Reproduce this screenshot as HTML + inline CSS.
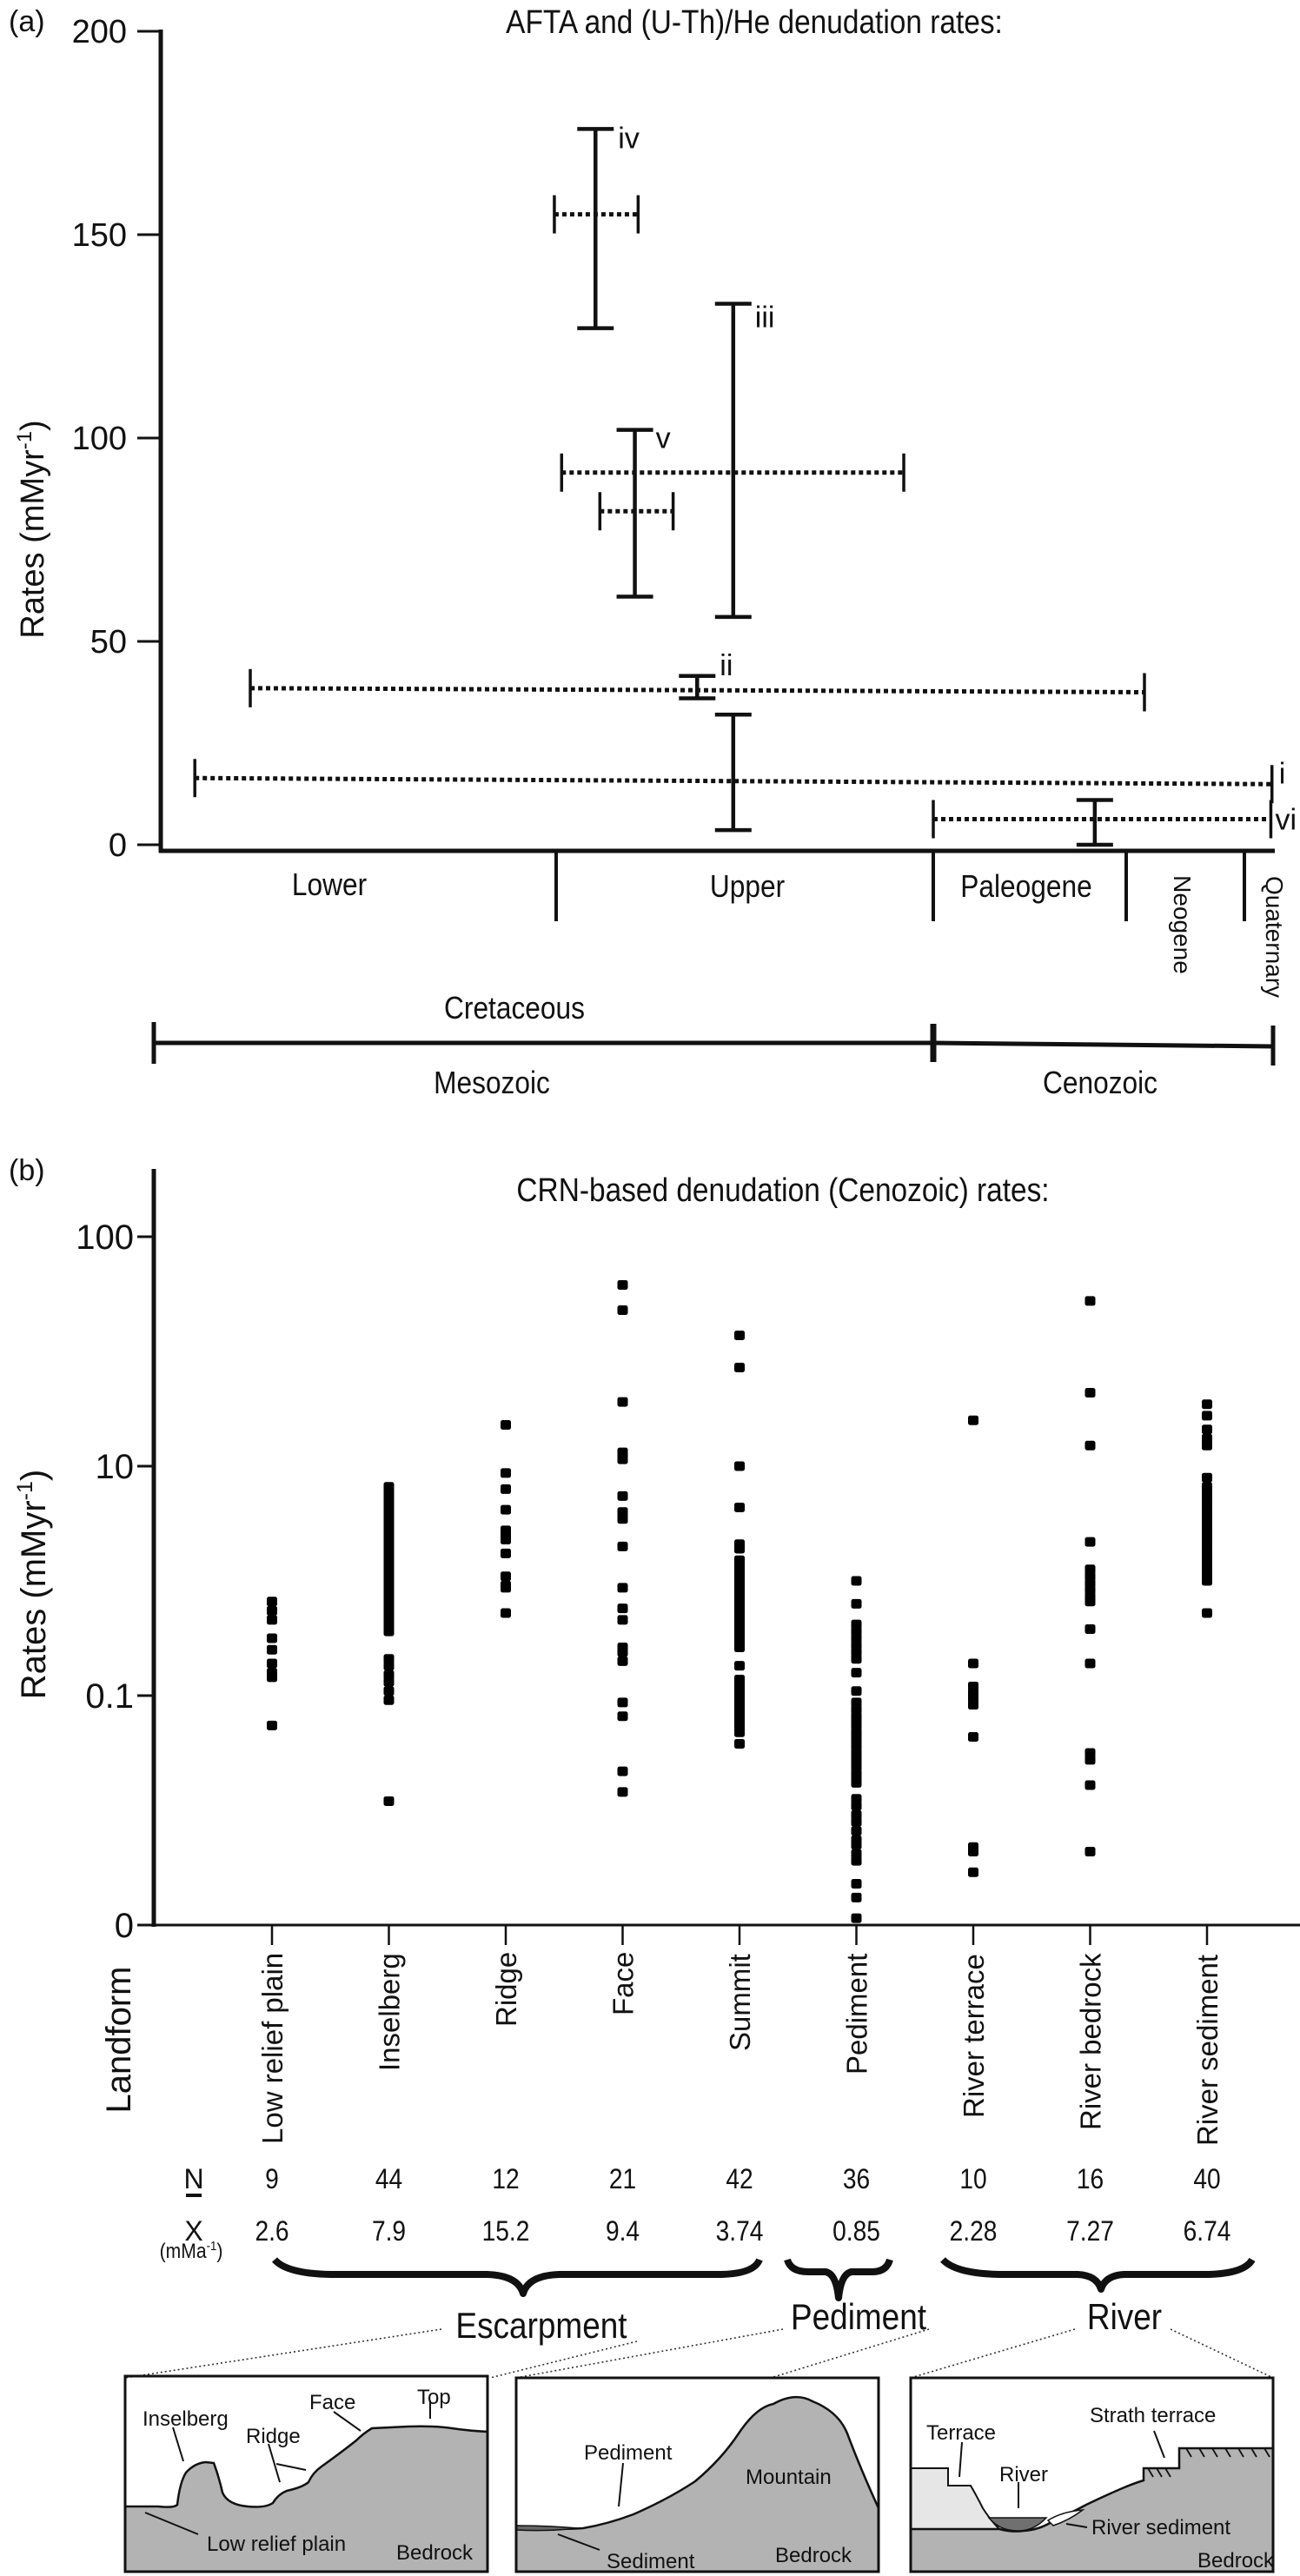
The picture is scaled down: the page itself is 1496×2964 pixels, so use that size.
<!DOCTYPE html>
<html><head><meta charset="utf-8">
<style>
html,body{margin:0;padding:0;background:#fff;}
svg{display:block;}
text{font-family:"Liberation Sans Narrow","Liberation Sans",Arial,sans-serif;fill:#111;}
.reg{font-family:"Liberation Sans",Arial,sans-serif;}
</style></head>
<body>
<svg id="fig" xmlns="http://www.w3.org/2000/svg" width="1496" height="2964" viewBox="0 0 1496 2964">
<g id="panelA">
  <text x="10" y="36" font-size="34">(a)</text>
  <text transform="translate(868,38) scale(0.88,1)" font-size="38" text-anchor="middle">AFTA and (U-Th)/He denudation rates:</text>
  <text transform="translate(50,609) rotate(-90)" font-size="38" text-anchor="middle" class="reg">Rates (mMyr<tspan font-size="24" dy="-14">-1</tspan><tspan dy="14">)</tspan></text>
  <g id="aAxes"></g>
  <g id="aMarks"></g>
  <text transform="translate(379,1030) scale(0.88,1)" font-size="36" text-anchor="middle">Lower</text>
  <text transform="translate(860,1032) scale(0.88,1)" font-size="36" text-anchor="middle">Upper</text>
  <text transform="translate(1181,1032) scale(0.88,1)" font-size="36" text-anchor="middle">Paleogene</text>
  <text transform="translate(1351,1064) rotate(90)" font-size="28" text-anchor="middle">Neogene</text>
  <text transform="translate(1457,1078) rotate(90)" font-size="28" text-anchor="middle">Quaternary</text>
  <text transform="translate(592,1172) scale(0.88,1)" font-size="36" text-anchor="middle">Cretaceous</text>
  <g stroke="#111" stroke-width="5" fill="none">
    <line x1="177" y1="1200" x2="1074" y2="1200"/>
    <line x1="1074" y1="1200" x2="1465" y2="1204"/>
    <line x1="177" y1="1176" x2="177" y2="1224"/>
    <line x1="1074" y1="1178" x2="1074" y2="1222" stroke-width="7"/>
    <line x1="1465" y1="1180" x2="1465" y2="1226"/>
  </g>
  <text transform="translate(566,1258) scale(0.88,1)" font-size="36" text-anchor="middle">Mesozoic</text>
  <text transform="translate(1266,1258) scale(0.88,1)" font-size="36" text-anchor="middle">Cenozoic</text>
</g>

<g id="panelB">
  <text x="10" y="1358" font-size="34">(b)</text>
  <text transform="translate(901,1382) scale(0.88,1)" font-size="38" text-anchor="middle">CRN-based denudation (Cenozoic) rates:</text>
  <text transform="translate(52,1823) rotate(-90)" font-size="40" text-anchor="middle" class="reg">Rates (mMyr<tspan font-size="25" dy="-15">-1</tspan><tspan dy="15">)</tspan></text>
  <g id="bAxes"></g>
  <g id="bMarks"></g>
  <text transform="translate(150,2347) rotate(-90)" font-size="40" text-anchor="middle" class="reg">Landform</text>
  <g id="bLabels"></g>
  <text x="223" y="2518" font-size="32" text-anchor="middle">N</text>
  <line x1="214" y1="2526" x2="232" y2="2526" stroke="#111" stroke-width="4"/>
  <text x="223" y="2578" font-size="32" text-anchor="middle">X</text>
  <text transform="translate(220,2598) scale(0.88,1)" font-size="24" text-anchor="middle">(mMa<tspan font-size="15" dy="-9">-1</tspan><tspan dy="9">)</tspan></text>
  <g id="bStats"></g>
  <g stroke="#111" stroke-width="8" fill="none" stroke-linejoin="round">
    <path d="M316,2600 Q330,2616 380,2617 L560,2617 Q596,2618 602,2639 Q608,2618 644,2617 L830,2617 Q868,2616 874,2600"/>
    <path d="M906,2600 Q910,2614 930,2614 L950,2614 Q962,2616 965,2644 Q968,2616 980,2614 L1004,2614 Q1020,2614 1024,2600"/>
    <path d="M1085,2600 Q1100,2616 1150,2617 L1240,2617 Q1262,2618 1267,2634 Q1272,2618 1294,2617 L1390,2617 Q1432,2616 1441,2600"/>
  </g>
  <text transform="translate(623,2690) scale(0.88,1)" font-size="42" text-anchor="middle">Escarpment</text>
  <text transform="translate(988,2680) scale(0.88,1)" font-size="42" text-anchor="middle">Pediment</text>
  <text transform="translate(1294,2680) scale(0.88,1)" font-size="42" text-anchor="middle">River</text>
  <g stroke="#333" stroke-width="1.6" stroke-dasharray="2 3" fill="none">
    <line x1="508" y1="2680" x2="144" y2="2736"/>
    <line x1="733" y1="2694" x2="564" y2="2736"/>
    <line x1="901" y1="2680" x2="594" y2="2736"/>
    <line x1="1069" y1="2680" x2="887" y2="2736"/>
    <line x1="1237" y1="2680" x2="1048" y2="2736"/>
    <line x1="1347" y1="2680" x2="1465" y2="2736"/>
  </g>
</g>

<g id="boxEsc">
  <path fill="#b3b3b3" stroke="#111" stroke-width="2.5" d="M144,2884 L182,2884 Q200,2886 204,2882 Q207,2856 214,2845 Q224,2834 237,2833 L246,2834 Q252,2850 256,2868 Q262,2882 285,2884 Q305,2886 314,2880 Q320,2870 330,2866 Q348,2862 355,2856 Q360,2845 370,2838 Q395,2820 410,2808 Q418,2800 428,2794 L470,2792 Q500,2791 520,2794 Q540,2797 561,2798 L561,2959 L144,2959 Z"/>
  <rect x="144" y="2734" width="417" height="225" fill="none" stroke="#111" stroke-width="3"/>
  <g stroke="#111" stroke-width="2" fill="none">
    <line x1="199" y1="2793" x2="211" y2="2832"/>
    <line x1="309" y1="2812" x2="322" y2="2856"/>
    <line x1="318" y1="2835" x2="352" y2="2842"/>
    <line x1="384" y1="2775" x2="415" y2="2797"/>
    <line x1="495" y1="2762" x2="495" y2="2783"/>
    <line x1="167" y1="2891" x2="228" y2="2916"/>
  </g>
  <g class="reg" font-size="24">
    <text class="reg" x="164" y="2791">Inselberg</text>
    <text class="reg" x="283" y="2811">Ridge</text>
    <text class="reg" x="356" y="2772">Face</text>
    <text class="reg" x="480" y="2766">Top</text>
    <text class="reg" x="238" y="2935">Low relief plain</text>
    <text class="reg" x="456" y="2945">Bedrock</text>
  </g>
</g>

<g id="boxPed">
  <path fill="#b3b3b3" stroke="#111" stroke-width="2.5" d="M594,2908 Q640,2911 671,2909 Q700,2904 729,2893 Q770,2875 800,2855 Q830,2830 850,2800 Q870,2770 890,2766 Q915,2752 935,2763 Q965,2775 975,2800 Q990,2840 1011,2886 L1011,2959 L594,2959 Z"/>
  <path fill="#666" stroke="#111" stroke-width="1.5" d="M594,2906 Q630,2906 665,2909 Q630,2913 594,2911 Z"/>
  <rect x="594" y="2736" width="417" height="223" fill="none" stroke="#111" stroke-width="3"/>
  <g stroke="#111" stroke-width="2" fill="none">
    <line x1="717" y1="2834" x2="712" y2="2884"/>
    <line x1="642" y1="2916" x2="690" y2="2934"/>
  </g>
  <text class="reg" x="672" y="2830" font-size="24">Pediment</text>
  <text class="reg" x="858" y="2858" font-size="24">Mountain</text>
  <text class="reg" x="698" y="2955" font-size="24">Sediment</text>
  <text class="reg" x="892" y="2948" font-size="24">Bedrock</text>
</g>

<g id="boxRiv">
  <path fill="#e6e6e6" stroke="#111" stroke-width="2" d="M1048,2840 L1091,2840 L1091,2860 L1117,2860 Q1124,2872 1131,2886 Q1140,2900 1150,2910 L1048,2910 Z"/>
  <path fill="#b3b3b3" stroke="#111" stroke-width="2.5" d="M1048,2910 L1150,2910 Q1165,2914 1178,2912 Q1195,2911 1210,2902 Q1235,2890 1250,2882 Q1275,2870 1294,2862 Q1306,2857 1316,2854 L1316,2840 L1357,2840 L1357,2817 L1465,2817 L1465,2959 L1048,2959 Z"/>
  <path fill="#707070" stroke="#111" stroke-width="1.5" d="M1138,2897 L1204,2897 Q1190,2912 1172,2912 Q1150,2912 1138,2897 Z"/>
  <path fill="#fff" stroke="#111" stroke-width="1.5" d="M1206,2900 Q1222,2890 1246,2888 Q1230,2900 1212,2906 Z"/>
  <g stroke="#111" stroke-width="1.8">
    <line x1="1321" y1="2840" x2="1327" y2="2850"/><line x1="1331" y1="2840" x2="1337" y2="2850"/><line x1="1341" y1="2840" x2="1347" y2="2850"/>
    <line x1="1365" y1="2817" x2="1371" y2="2827"/><line x1="1380" y1="2817" x2="1386" y2="2827"/><line x1="1395" y1="2817" x2="1401" y2="2827"/><line x1="1410" y1="2817" x2="1416" y2="2827"/><line x1="1425" y1="2817" x2="1431" y2="2827"/><line x1="1440" y1="2817" x2="1446" y2="2827"/><line x1="1455" y1="2817" x2="1461" y2="2827"/>
  </g>
  <rect x="1048" y="2736" width="417" height="223" fill="none" stroke="#111" stroke-width="3"/>
  <g stroke="#111" stroke-width="2" fill="none">
    <line x1="1107" y1="2810" x2="1104" y2="2850"/>
    <line x1="1172" y1="2856" x2="1172" y2="2886"/>
    <line x1="1328" y1="2797" x2="1340" y2="2828"/>
    <line x1="1227" y1="2904" x2="1251" y2="2908"/>
  </g>
  <text class="reg" x="1066" y="2807" font-size="24">Terrace</text>
  <text class="reg" x="1150" y="2855" font-size="24">River</text>
  <text class="reg" x="1254" y="2787" font-size="24">Strath terrace</text>
  <text class="reg" x="1256" y="2916" font-size="24">River sediment</text>
  <text class="reg" x="1378" y="2954" font-size="24">Bedrock</text>
</g>
</svg>

<script>
// ---------- Panel (a) data ----------
const aTickValues = [0, 50, 100, 150, 200];
const aTickLabels = ["0", "50", "100", "150", "200"];
const ageBreaks = [145, 100.5, 66, 23, 2.6, 0];
const vBarAge = [96.9, 84.3, 93.3, 87.6, 84.3, 30.0];
const vBarLow = [127, 56, 61, 36, 3.6, 0];
const vBarHigh = [176, 133, 102, 41.5, 32, 11];
const hBarFrom = [100.7, 100.0, 96.5, 134.7, 140.9, 66];
const hBarTo = [93.0, 68.7, 89.8, 19.85, 0.1, 0.2];
const hBarRateStart = [155, 91.5, 82, 38.5, 16.4, 6.3];
const hBarRateEnd = [155, 91.5, 82, 37.5, 14.9, 6.3];
const aLabels = ["iv", "iii", "v", "ii", "i", "vi"];

// ---------- Panel (b) data ----------
const bCategories = ["Low relief plain","Inselberg","Ridge","Face","Summit","Pediment","River terrace","River bedrock","River sediment"];
const bTickValues = [100, 10, 1, 0.1];
const bTickLabels = ["100", "10", "0.1", "0"];
const bCountN = ["9","44","12","21","42","36","10","16","40"];
const bMeanX = ["2.6","7.9","15.2","9.4","3.74","0.85","2.28","7.27","6.74"];
const lowReliefPlainLog = [0.41,0.37,0.33,0.25,0.20,0.14,0.10,0.08,-0.13];
const inselbergLog = [0.91,0.89,0.87,0.85,0.84,0.82,0.80,0.78,0.76,0.74,0.72,0.70,0.68,0.66,0.65,0.63,0.61,0.59,0.57,0.55,0.53,0.51,0.49,0.47,0.46,0.44,0.42,0.40,0.38,0.36,0.34,0.32,0.30,0.28,0.16,0.13,0.09,0.06,0.02,-0.02,-0.46];
const ridgeLog = [1.18,0.97,0.90,0.81,0.72,0.70,0.68,0.62,0.52,0.48,0.47,0.36];
const faceLog = [1.79,1.68,1.28,1.06,1.05,1.03,0.87,0.80,0.78,0.77,0.65,0.47,0.38,0.33,0.21,0.19,0.15,-0.03,-0.09,-0.33,-0.42];
const summitLog = [1.57,1.43,1.00,0.82,0.66,0.64,0.59,0.58,0.56,0.54,0.52,0.50,0.48,0.46,0.44,0.42,0.40,0.38,0.37,0.35,0.33,0.31,0.29,0.27,0.25,0.23,0.21,0.13,0.07,0.05,0.03,0.01,-0.01,-0.03,-0.05,-0.07,-0.08,-0.10,-0.12,-0.14,-0.16,-0.21];
const pedimentLog = [0.50,0.40,0.31,0.28,0.25,0.22,0.19,0.16,0.10,0.02,-0.03,-0.06,-0.09,-0.11,-0.13,-0.16,-0.18,-0.20,-0.22,-0.25,-0.27,-0.29,-0.31,-0.34,-0.36,-0.38,-0.45,-0.48,-0.52,-0.55,-0.59,-0.63,-0.65,-0.69,-0.72,-0.82,-0.88,-0.97];
const riverTerraceLog = [1.20,0.14,0.04,0.01,-0.01,-0.04,-0.18,-0.66,-0.68,-0.77];
const riverBedrockLog = [1.72,1.32,1.09,0.67,0.55,0.52,0.49,0.46,0.43,0.41,0.29,0.14,-0.25,-0.28,-0.39,-0.68];
const riverSedimentLog = [1.27,1.22,1.16,1.12,1.09,0.95,0.91,0.88,0.86,0.84,0.81,0.79,0.77,0.75,0.72,0.70,0.68,0.66,0.63,0.61,0.59,0.56,0.54,0.52,0.50,0.36];
const bSeries = [lowReliefPlainLog,inselbergLog,ridgeLog,faceLog,summitLog,pedimentLog,riverTerraceLog,riverBedrockLog,riverSedimentLog];

const NS = "http://www.w3.org/2000/svg";
function mk(tag, attrs, parent) {
  const e = document.createElementNS(NS, tag);
  for (const k in attrs) e.setAttribute(k, attrs[k]);
  parent.appendChild(e);
  return e;
}

const agePx = [182, 640, 1074, 1296, 1432, 1465];
function xa(age) {
  for (let i = 0; i < ageBreaks.length - 1; i++) {
    const a0 = ageBreaks[i], a1 = ageBreaks[i + 1];
    if (age <= a0 && age >= a1) return agePx[i] + (a0 - age) / (a0 - a1) * (agePx[i + 1] - agePx[i]);
  }
  return age > ageBreaks[0] ? agePx[0] : agePx[agePx.length - 1];
}
function ya(v) { return 972 - v * 4.68; }

const aAxes = document.getElementById('aAxes');
let ln = mk('line', {x1:185, y1:34, x2:185, y2:981, stroke:'#111', 'stroke-width':5}, aAxes);


ln = mk('line', {x1:183, y1:979, x2:1467, y2:979, stroke:'#111', 'stroke-width':5}, aAxes);


aTickValues.forEach((v, i) => {
  const y = ya(v);
  const t = mk('line', {x1:158, y1:y, x2:185, y2:y, stroke:'#111', 'stroke-width':3}, aAxes);
  
  
  const tx = mk('text', {x:146, y:y + 13, 'font-size':38, 'text-anchor':'end'}, aAxes);
  tx.textContent = aTickLabels[i];
  
  
});
ageBreaks.slice(1, 5).forEach(age => {
  const x = xa(age);
  const d = mk('line', {x1:x, y1:979, x2:x, y2:1060, stroke:'#111', 'stroke-width':4}, aAxes);
  
  
});

const aMarks = document.getElementById('aMarks');
const labelOff = [[26,22],[25,27],[24,21],[26,-1],[8,-1],[5,12]];
vBarAge.forEach((age, i) => {
  const x = xa(age), y1 = ya(vBarHigh[i]), y2 = ya(vBarLow[i]);
  const g = mk('g', {stroke:'#111', 'stroke-width':4.5}, aMarks);
  
  
  mk('line', {x1:x, y1:y1, x2:x, y2:y2}, g);
  mk('line', {x1:x - 21, y1:y1, x2:x + 21, y2:y1}, g);
  mk('line', {x1:x - 21, y1:y2, x2:x + 21, y2:y2}, g);
});
hBarFrom.forEach((a, i) => {
  const x1 = xa(a), x2 = xa(hBarTo[i]), y1 = ya(hBarRateStart[i]), y2 = ya(hBarRateEnd[i]);
  const g = mk('g', {stroke:'#111'}, aMarks);
  
  
  mk('line', {x1:x1, y1:y1, x2:x2, y2:y2, 'stroke-width':5, 'stroke-dasharray':'5 4'}, g);
  mk('line', {x1:x1, y1:y1 - 22, x2:x1, y2:y1 + 22, 'stroke-width':3.5}, g);
  mk('line', {x1:x2, y1:y2 - 22, x2:x2, y2:y2 + 22, 'stroke-width':3.5}, g);
});
aLabels.forEach((lab, i) => {
  let x, y;
  if (i < 4) { x = xa(vBarAge[i]) + labelOff[i][0]; y = ya(vBarHigh[i]) + labelOff[i][1]; }
  else { x = xa(hBarTo[i]) + labelOff[i][0]; y = ya(hBarRateEnd[i]) + labelOff[i][1]; }
  const t = mk('text', {x:x, y:y, 'font-size':34}, aMarks);
  t.textContent = lab;
  
  
});

function xb(i) { return 313 + i * 134.5; }
function yb(v) { return 1423 + (2 - Math.log10(v)) * 264; }
function ybLog(l) { return 1423 + (2 - l) * 264; }

const bAxes = document.getElementById('bAxes');
ln = mk('line', {x1:177, y1:1345, x2:177, y2:2217, stroke:'#111', 'stroke-width':5}, bAxes);


ln = mk('line', {x1:175, y1:2215, x2:1496, y2:2215, stroke:'#111', 'stroke-width':3}, bAxes);


bTickValues.forEach((v, i) => {
  const y = yb(v);
  const t = mk('line', {x1:158, y1:y, x2:177, y2:y, stroke:'#111', 'stroke-width':3}, bAxes);
  
  
  const tx = mk('text', {x:154, y:y + 14, 'font-size':40, 'text-anchor':'end'}, bAxes);
  tx.textContent = bTickLabels[i];
  
  
});
bCategories.forEach((c, i) => {
  const t = mk('line', {x1:xb(i), y1:2215, x2:xb(i), y2:2238, stroke:'#111', 'stroke-width':2.5}, bAxes);
  
  
});

const bMarks = document.getElementById('bMarks');
bSeries.forEach((arr, i) => {
  const g = mk('g', {fill:'#000'}, bMarks);
  
  
  arr.forEach(l => {
    const r = mk('rect', {x:xb(i) - 6, y:ybLog(l) - 5.5, width:12, height:11, rx:2.5}, g);
    
    
  });
});

const labelBottoms = [2467, 2383, 2332, 2319, 2360, 2387, 2437, 2451, 2469];
const bLabels = document.getElementById('bLabels');
bCategories.forEach((c, i) => {
  const t = mk('text', {transform:'translate(' + (xb(i) + 12) + ',' + labelBottoms[i] + ') rotate(-90)', 'font-size':33, class:'reg'}, bLabels);
  t.textContent = c;
  
  
});
const bStats = document.getElementById('bStats');
bCategories.forEach((c, i) => {
  const n = mk('text', {transform:'translate(' + xb(i) + ',2518) scale(0.88,1)', 'font-size':32, 'text-anchor':'middle'}, bStats);
  n.textContent = bCountN[i];
  
  
  const m = mk('text', {transform:'translate(' + xb(i) + ',2578) scale(0.88,1)', 'font-size':32, 'text-anchor':'middle'}, bStats);
  m.textContent = bMeanX[i];
  
  
});
</script>
</body></html>
